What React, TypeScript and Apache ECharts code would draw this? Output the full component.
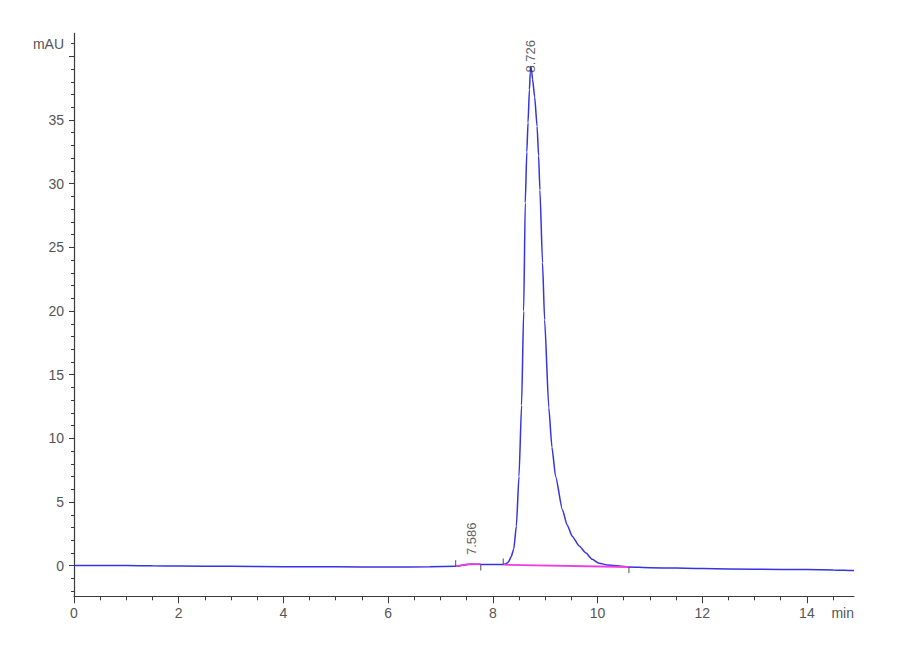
import { useEffect, useRef } from 'react';
import * as echarts from 'echarts';

// chromatogram trace (time in min, absorbance in mAU)
const timeMin = [
  0, 0.5, 1, 1.5, 2, 3, 4, 5, 6, 6.8, 7.29, 7.45, 7.586, 7.7, 7.77, 8.0, 8.2, 8.25, 8.3, 8.35, 8.4, 8.45,
  8.5, 8.55, 8.59, 8.62, 8.65, 8.673, 8.7, 8.715, 8.726, 8.74, 8.76, 8.8, 8.846, 8.875, 8.9, 8.95, 8.99,
  9.07, 9.13, 9.2, 9.33, 9.42, 9.52, 9.65, 9.78, 9.9, 10.03, 10.2, 10.42, 10.6, 11, 12, 13, 14, 14.5, 14.7,
  14.9,
];
const signal = [
  0.02, 0.02, 0.01, -0.01, -0.02, -0.05, -0.08, -0.08, -0.1, -0.08, -0.05, 0.05, 0.13, 0.12, 0.1, 0.1, 0.1,
  0.15, 0.3, 0.7, 1.3, 3.1, 7.0, 12.6, 20.0, 28.5, 32.5, 34.8, 37.4, 38.7, 39.2, 38.9, 38.2, 36.8, 34.5,
  32.2, 29.5, 23.8, 19.3, 12.4, 9.3, 7.0, 4.4, 3.2, 2.3, 1.55, 1.0, 0.5, 0.2, 0.05, -0.02, -0.1, -0.15,
  -0.22, -0.28, -0.3, -0.33, -0.36, -0.38,
];

// integration baselines (null breaks the line between the two peaks)
const baselineTime = [7.29, 7.5, 7.77, 7.98, 8.2, 10.6];
const baselineValue = [-0.05, 0.1, 0.12, null, 0.08, -0.1];

// peak start / end markers
const peakStartTime = [7.29, 8.2];
const peakStartValue = [-0.05, 0.1];
const peakEndTime = [7.77, 10.6];
const peakEndValue = [0.1, -0.1];

// retention time labels
const peakTime = [7.586, 8.726];
const peakHeight = [0.13, 39.2];
const peakLabelGap = [9, -6];

const yLabelValues = [0, 5, 10, 15, 20, 25, 30, 35, 41];
const yMajorTicks = [0, 5, 10, 15, 20, 25, 30, 35, 40];
const yMinorTicks = Array.from({ length: 44 }, (_, i) => i - 2);
const xLabelValues = [0, 2, 4, 6, 8, 10, 12, 14, 14.9];
const xMajorTicks = [0, 2, 4, 6, 8, 10, 12, 14];
const xMinorTicks = Array.from({ length: 30 }, (_, i) => i * 0.5);

const X_MIN = 0;
const X_MAX = 14.9;
const Y_MIN = -2.4;
const Y_MAX = 41.8;

const FONT = "'Liberation Sans Narrow', 'Liberation Sans', Arial, sans-serif";
const AXIS_COLOR = '#3a3a3a';
const LABEL_COLOR = '#555';

export default function App() {
  const ref = useRef<HTMLDivElement>(null);

  useEffect(() => {
    const el = ref.current;
    if (!el) return;
    const chart = echarts.init(el, undefined, { renderer: 'svg' });

    const xBase = { type: 'value', min: X_MIN, max: X_MAX, splitLine: { show: false } };
    const yBase = { type: 'value', min: Y_MIN, max: Y_MAX, splitLine: { show: false } };

    chart.setOption({
      animation: false,
      backgroundColor: '#fff',
      grid: { left: 74, right: 46, top: 33.4, bottom: 63.7, containLabel: false },
      xAxis: [
        {
          ...xBase,
          axisLine: { show: true, onZero: false, lineStyle: { color: AXIS_COLOR, width: 1.2 } },
          axisTick: { show: true, length: 7, customValues: xMajorTicks, lineStyle: { color: AXIS_COLOR } },
          axisLabel: {
            show: true,
            customValues: xLabelValues,
            alignMaxLabel: 'right',
            margin: 10,
            color: LABEL_COLOR,
            fontFamily: FONT,
            fontSize: 14,
            formatter: (v: number) => (v === X_MAX ? 'min' : String(v)),
          },
        },
        {
          ...xBase,
          position: 'bottom',
          axisLine: { show: false, onZero: false },
          axisTick: { show: true, length: 4, customValues: xMinorTicks, lineStyle: { color: AXIS_COLOR } },
          axisLabel: { show: false },
        },
      ],
      yAxis: [
        {
          ...yBase,
          axisLine: { show: true, onZero: false, lineStyle: { color: AXIS_COLOR, width: 1.2 } },
          axisTick: { show: true, length: 5, customValues: yMajorTicks, lineStyle: { color: AXIS_COLOR } },
          axisLabel: {
            show: true,
            customValues: yLabelValues,
            margin: 10,
            color: LABEL_COLOR,
            fontFamily: FONT,
            fontSize: 14,
            formatter: (v: number) => (v === 41 ? 'mAU' : String(v)),
          },
        },
        {
          ...yBase,
          position: 'left',
          axisLine: { show: false, onZero: false },
          axisTick: { show: true, length: 3, customValues: yMinorTicks, lineStyle: { color: AXIS_COLOR } },
          axisLabel: { show: false },
        },
      ],
      series: [
        {
          type: 'line',
          name: 'signal',
          data: timeMin.map((t, i) => [t, signal[i]]),
          showSymbol: false,
          smooth: 0.2,
          smoothMonotone: 'x',
          lineStyle: { color: '#3434e0', width: 1.5 },
          z: 2,
        },
        {
          type: 'line',
          name: 'baseline',
          data: baselineTime.map((t, i) => [t, baselineValue[i]]),
          showSymbol: false,
          connectNulls: false,
          lineStyle: { color: '#f03ce0', width: 1.8 },
          z: 3,
        },
        {
          type: 'scatter',
          name: 'start',
          data: peakStartTime.map((t, i) => [t, peakStartValue[i]]),
          symbol: 'rect',
          symbolSize: [1.2, 6],
          symbolOffset: [0, -3],
          itemStyle: { color: '#444' },
          z: 4,
        },
        {
          type: 'scatter',
          name: 'end',
          data: peakEndTime.map((t, i) => [t, peakEndValue[i]]),
          symbol: 'rect',
          symbolSize: [1.2, 6],
          symbolOffset: [0, 3],
          itemStyle: { color: '#444' },
          z: 4,
        },
        {
          type: 'scatter',
          name: 'peaks',
          symbolSize: 0,
          data: peakTime.map((t, i) => ({
            value: [t, peakHeight[i]],
            label: { distance: peakLabelGap[i] },
          })),
          label: {
            show: true,
            position: 'top',
            rotate: 90,
            align: 'left',
            verticalAlign: 'middle',
            color: '#333',
            fontFamily: "'Liberation Sans', Arial, sans-serif",
            fontSize: 13,
            formatter: (p: { value: number[] }) => p.value[0].toFixed(3),
          },
          z: 5,
        },
      ],
    });

    return () => chart.dispose();
  }, []);

  return (
    <div
      ref={ref}
      style={{ position: 'fixed', left: 0, top: 0, width: 900, height: 660, background: '#fff' }}
    />
  );
}
